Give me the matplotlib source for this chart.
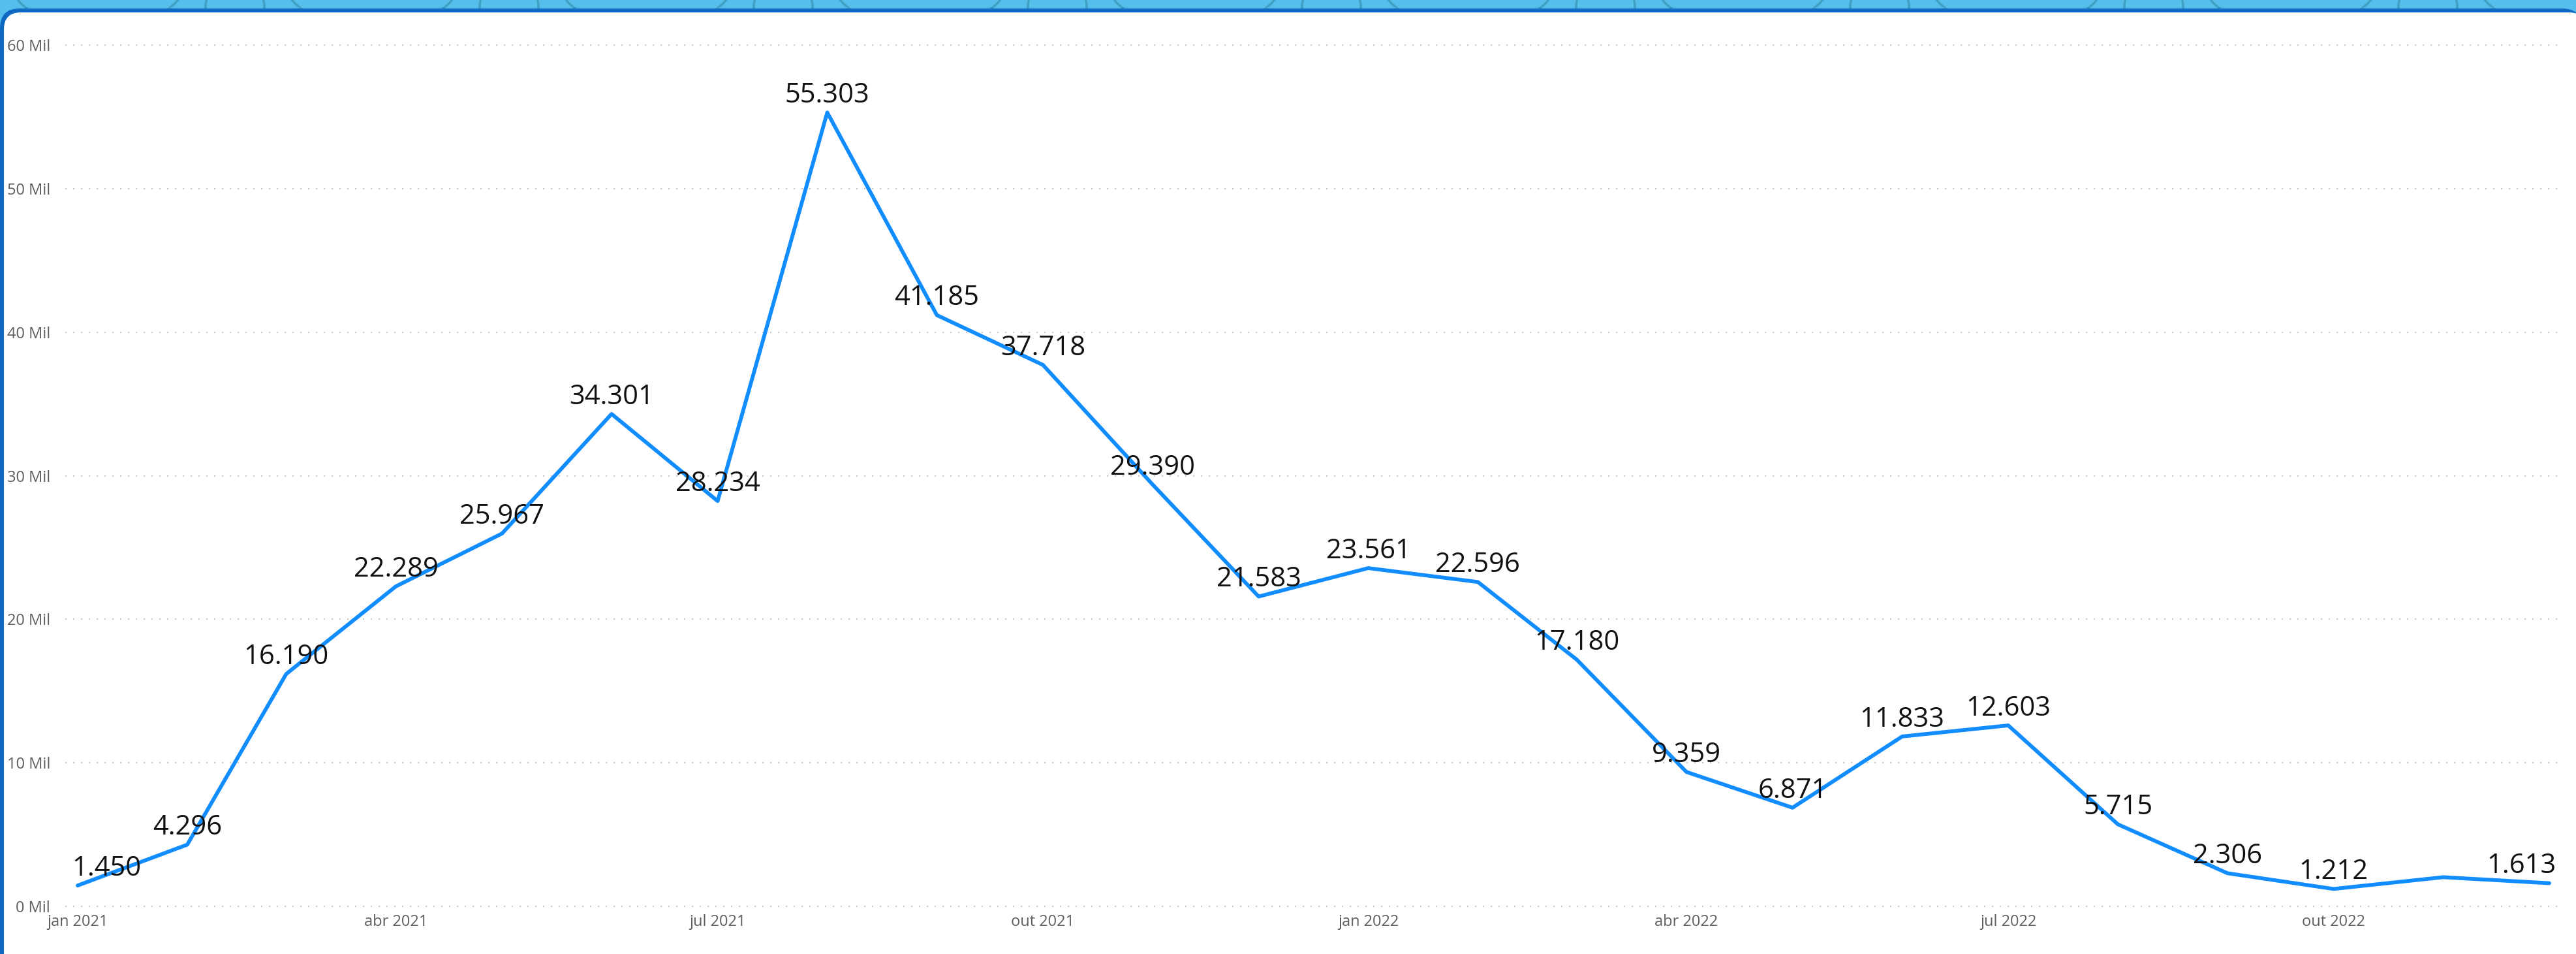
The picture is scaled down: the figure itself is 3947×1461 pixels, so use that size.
import numpy as np
import pandas as pd
import matplotlib
matplotlib.use("Agg")
import matplotlib.pyplot as plt
from matplotlib.patches import FancyBboxPatch, Arc
from matplotlib.transforms import IdentityTransform
from matplotlib.ticker import FuncFormatter

plt.rcParams['font.family'] = ['Open Sans', 'DejaVu Sans']

# data (monthly totals)
months = pd.date_range('2021-01-01', periods=24, freq='MS')
values = [1450, 4296, 16190, 22289, 25967, 34301, 28234, 55303, 41185, 37718,
          29390, 21583, 23561, 22596, 17180, 9359, 6871, 11833, 12603, 5715,
          2306, 1212, 2030, 1613]
# Power BI hid the label for nov 2022
hidden_labels = ['2022-11-01']

tick_dates = pd.to_datetime(['2021-01-01', '2021-04-01', '2021-07-01', '2021-10-01',
                             '2022-01-01', '2022-04-01', '2022-07-01', '2022-10-01'])
tick_labels = ['jan 2021', 'abr 2021', 'jul 2021', 'out 2021',
               'jan 2022', 'abr 2022', 'jul 2022', 'out 2022']
y_ticks = [0, 10000, 20000, 30000, 40000, 50000, 60000]

W, H = 3948, 1461
fig = plt.figure(figsize=(W / 100, H / 100), dpi=100, facecolor='#56BEEB')
px = IdentityTransform()

# decorative swirls in the top band
for cx in range(150, W, 420):
    fig.add_artist(Arc((cx, H + 20), 260, 120, theta1=180, theta2=360, transform=px,
                       color='#3FA0C4', lw=2.5, zorder=-3))
    fig.add_artist(Arc((cx + 210, H - 10), 90, 80, theta1=0, theta2=360, transform=px,
                       color='#3FA0C4', lw=2.5, zorder=-3))

# frame: dark blue rounded border, white panel inside
fig.add_artist(FancyBboxPatch((0, -40), W + 8, H - 13 + 40,
                              boxstyle='round,pad=0,rounding_size=30',
                              transform=px, facecolor='#0F69C3', edgecolor='none',
                              zorder=-2))
fig.add_artist(FancyBboxPatch((6, -40), W + 8, H - 19 + 40,
                              boxstyle='round,pad=0,rounding_size=26',
                              transform=px, facecolor='white', edgecolor='none',
                              zorder=-1))

left, right = 100, 3919
bottom, top = H - 1388, H - 69
ax = fig.add_axes([left / W, bottom / H, (right - left) / W, (top - bottom) / H])
ax.set_zorder(5)
ax.set_facecolor('none')
for s in ax.spines.values():
    s.set_visible(False)

for yv in y_ticks:
    ax.axhline(yv, color='#C8C8C8', lw=1.5, ls=(0, (1, 4.76)), clip_on=False, zorder=1)

ax.plot(months, values, color='#118DFF', lw=4.2, solid_capstyle='round',
        solid_joinstyle='round', zorder=3, clip_on=False)

ax.set_xlim(months[0] - pd.Timedelta(days=3.5), months[-1] + pd.Timedelta(days=2.4))
ax.set_ylim(0, 60000)
ax.set_yticks(y_ticks)
ax.yaxis.set_major_formatter(FuncFormatter(lambda v, p: f'{int(v / 1000)} Mil'))
ax.set_xticks(tick_dates)
ax.set_xticklabels(tick_labels)
ax.tick_params(axis='y', length=0, pad=16.5, labelsize=17, labelcolor='#605E5C')
ax.tick_params(axis='x', length=0, pad=9, labelsize=17, labelcolor='#605E5C')

labels = []
for d, v in zip(months, values):
    if d.strftime('%Y-%m-%d') in hidden_labels:
        continue
    t = ax.annotate(f'{v:,}'.replace(',', '.'), (d, v), xytext=(0, 11),
                    textcoords='offset points', ha='center', va='baseline',
                    fontsize=30, color='#111111', zorder=4, annotation_clip=False)
    labels.append(t)

# keep the end labels inside the plot area, like Power BI does
fig.canvas.draw()
r = fig.canvas.get_renderer()
for t in labels:
    bb = t.get_window_extent(r)
    shift = 0
    if bb.x0 < left + 10:
        shift = left + 10 - bb.x0
    elif bb.x1 > right - 3:
        shift = right - 3 - bb.x1
    if shift:
        t.xyann = (shift * 72 / fig.dpi, 11)

fig.savefig('out.png', dpi=100, facecolor=fig.get_facecolor())
